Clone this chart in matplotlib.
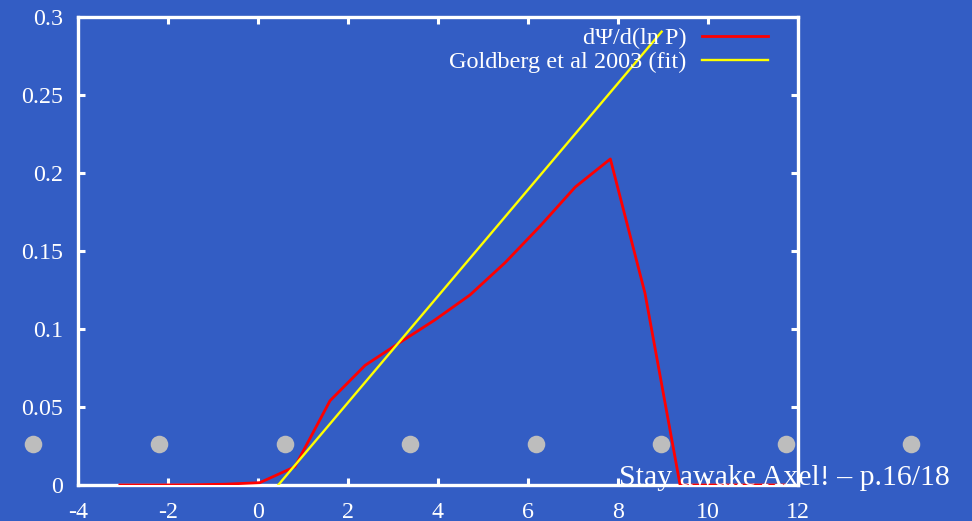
import numpy as np
import matplotlib
matplotlib.use("Agg")
import matplotlib.pyplot as plt

BG = "#335dc4"

# dPsi/d(ln P) sampled on a uniform ln P grid
ln_p = [-3.07, -2.30, -1.52, -0.74, 0.04, 0.82, 1.60, 2.38, 3.16, 3.93,
        4.71, 5.49, 6.27, 7.05, 7.83, 8.60, 9.38, 10.16, 10.94, 11.71]
dpsi = [0.0000, 0.0000, 0.0001, 0.0005, 0.0015, 0.0117, 0.0540, 0.0767, 0.0915, 0.1058,
        0.1218, 0.1425, 0.1660, 0.1910, 0.2090, 0.1229, 0.0000, 0.0000, 0.0000, 0.0000]

# Goldberg et al 2003 linear fit
fit_x = [0.45, 8.97]
fit_y = [0.0, 0.2906]

x_ticks = [-4, -2, 0, 2, 4, 6, 8, 10, 12]
y_ticks = [0, 0.05, 0.1, 0.15, 0.2, 0.25, 0.3]
y_labels = ["0", "0.05", "0.1", "0.15", "0.2", "0.25", "0.3"]

W, H = 972, 521
fig = plt.figure(figsize=(W / 100, H / 100), dpi=100, facecolor=BG)

# slide navigation dots
deco = fig.add_axes([0, 0, 1, 1], zorder=0)
deco.set_xlim(0, W)
deco.set_ylim(H, 0)
deco.axis("off")
dot_x = [33, 159, 285, 410, 536, 661, 786, 911]
deco.scatter(dot_x, [444] * len(dot_x), s=160, color="#bdbdbd", linewidths=0)

ax = fig.add_axes([78 / W, 36 / H, 720 / W, 468 / H], zorder=1)
ax.set_facecolor("none")
ax.set_xlim(-4, 12)
ax.set_ylim(0, 0.3)

serif = ["Liberation Serif", "DejaVu Serif"]

ax.plot(ln_p, dpsi, color="#ff0000", lw=2.0, label="d\u03a8/d(ln P)", zorder=3)
ax.plot(fit_x, fit_y, color="#ffff00", lw=1.7, label="Goldberg et al 2003 (fit)", zorder=3)

for s in ax.spines.values():
    s.set_color("white")
    s.set_linewidth(2.4)

ax.set_xticks(x_ticks)
ax.set_xticklabels([str(v) for v in x_ticks])
ax.set_yticks(y_ticks)
ax.set_yticklabels(y_labels)
ax.tick_params(direction="in", length=5, width=2.2, color="white",
               top=True, right=True, labelcolor="white", labelsize=17.3)
ax.tick_params(axis="x", pad=12)
ax.tick_params(axis="y", pad=11)
for lab in ax.get_xticklabels() + ax.get_yticklabels():
    lab.set_family(serif)

leg = ax.legend(loc="upper right",
                bbox_to_anchor=((768 - 78) / 720, (485 - 27) / 468),
                frameon=False, markerfirst=False, borderpad=0, borderaxespad=0,
                handlelength=2.7, handletextpad=0.65, labelspacing=0.1,
                prop={"family": serif, "size": 17.5})
for t in leg.get_texts():
    t.set_color("white")
    t.set_ha("right")

fig.text(950 / W, 1 - 485 / H, "Stay awake Axel! \u2013 p.16/18", color="white",
         ha="right", va="baseline", fontsize=21.5, family=serif, zorder=5)

fig.savefig("out.png", dpi=100, facecolor=BG)
